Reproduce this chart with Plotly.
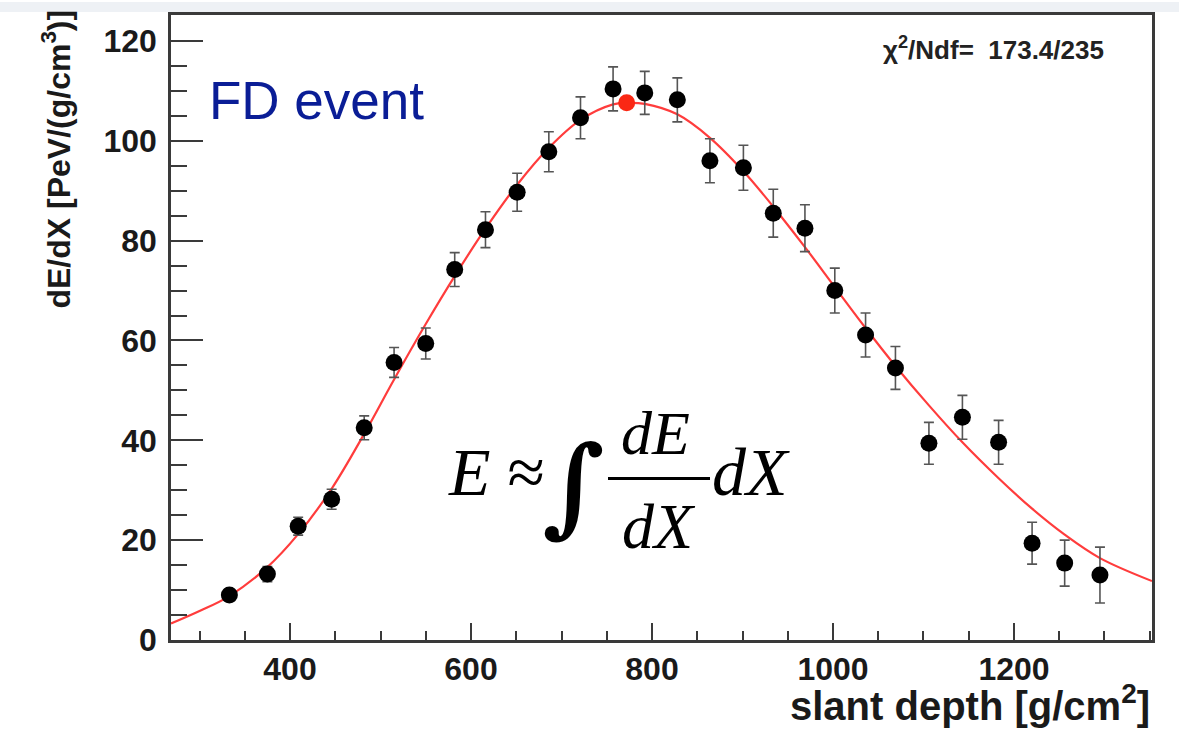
import plotly.graph_objects as go

# Measured longitudinal profile of the shower (slant depth in g/cm^2, dE/dX in PeV/(g/cm^2))
depth = [333, 375, 409, 446, 482, 515, 550, 582, 616, 651, 686, 721, 757, 792,
         828, 864, 901, 934, 969, 1002, 1036, 1069, 1106, 1143, 1183, 1220, 1256, 1295]
dedx = [9.0, 13.2, 22.8, 28.2, 42.5, 55.6, 59.4, 74.2, 82.2, 89.7, 97.8, 104.6, 110.4, 109.6,
        108.2, 96.0, 94.6, 85.5, 82.5, 70.0, 61.1, 54.5, 39.4, 44.6, 39.6, 19.4, 15.4, 13.0]
dedx_err = [1.2, 1.5, 1.8, 2.0, 2.4, 3.0, 3.1, 3.4, 3.6, 3.8, 4.0, 4.2, 4.4, 4.3,
            4.4, 4.4, 4.5, 4.8, 4.7, 4.5, 4.4, 4.3, 4.2, 4.4, 4.4, 4.2, 4.6, 5.6]

# Shower maximum from the fit
xmax_depth = [772]
xmax_dedx = [107.6]

# Fitted profile curve
fit_depth = [268.5, 300, 333, 375, 409, 446, 482, 515, 550, 582, 616, 651, 686, 721, 757, 772,
             792, 828, 864, 901, 934, 969, 1002, 1036, 1069, 1106, 1143, 1183, 1220, 1256, 1295, 1352.5]
fit_dedx = [3.3, 5.8, 8.8, 14.6, 21.2, 30.3, 41.3, 52.2, 63.3, 72.9, 82.4, 91.2, 98.6, 104.2, 107.3, 107.6,
            107.4, 105.3, 100.6, 93.9, 86.8, 78.7, 70.7, 62.5, 54.9, 47.0, 39.6, 32.4, 26.3, 21.1, 16.4, 11.8]

chi2_text = "χ<sup>2</sup>/Ndf=  173.4/235"

W, H = 1179, 744
L, R, T, B = 171, 27, 13, 104
PW, PH = W - L - R, H - T - B


def px(x):
    return (x - L) / PW


def py(y):
    return (H - B - y) / PH


SANS = "Liberation Sans, Arial, Helvetica, sans-serif"
SERIF = "Liberation Serif, Times New Roman, serif"
AXIS = "#3a3a3a"

fig = go.Figure()

fig.add_trace(go.Scatter(
    x=fit_depth, y=fit_dedx, mode="lines",
    line=dict(color="rgb(255,60,60)", width=2.2, shape="spline", smoothing=1.0),
    hoverinfo="skip", showlegend=False,
))

fig.add_trace(go.Scatter(
    x=depth, y=dedx, mode="markers",
    marker=dict(color="black", size=17),
    error_y=dict(type="data", array=dedx_err, visible=True,
                 color="#555555", thickness=1.6, width=5),
    showlegend=False,
))

fig.add_trace(go.Scatter(
    x=xmax_depth, y=xmax_dedx, mode="markers",
    marker=dict(color="rgb(250,40,20)", size=17),
    showlegend=False,
))

fig.update_xaxes(
    range=[268.5, 1352.5], tick0=0, dtick=200,
    ticks="inside", ticklen=17, tickwidth=2, tickcolor=AXIS,
    minor=dict(ticks="inside", dtick=50, ticklen=9, tickwidth=2, tickcolor=AXIS),
    showline=True, linecolor=AXIS, linewidth=2.5, mirror=True,
    showgrid=False, zeroline=False,
    tickfont=dict(family=SANS, size=32, color="#1a1a1a", weight="bold"),
    ticklabelstandoff=-1,
)
fig.update_yaxes(
    range=[0, 125.2], tick0=0, dtick=20,
    ticks="inside", ticklen=32, tickwidth=2, tickcolor=AXIS,
    minor=dict(ticks="inside", dtick=5, ticklen=16, tickwidth=2, tickcolor=AXIS),
    showline=True, linecolor=AXIS, linewidth=2.5, mirror=True,
    showgrid=False, zeroline=False,
    tickfont=dict(family=SANS, size=32, color="#1a1a1a", weight="bold"),
    ticklabelstandoff=5,
)

annotations = [
    # axis titles
    dict(text="slant depth [g/cm<sup>2</sup>]", x=px(1152), y=py(703),
         xanchor="right", yanchor="middle",
         font=dict(family=SANS, size=40, color="#1a1a1a", weight="bold")),
    dict(text="dE/dX [PeV/(g/cm<sup>3</sup>)]", x=px(56), y=py(6), textangle=-90,
         xanchor="center", yanchor="top",
         font=dict(family=SANS, size=32, color="#1a1a1a", weight="bold")),
    # fit quality
    dict(text=chi2_text, x=px(1106), y=py(47), xanchor="right", yanchor="middle",
         font=dict(family=SANS, size=26, color="#222222", weight="bold")),
    # event label
    dict(text="FD event", x=px(207), y=py(99), xanchor="left", yanchor="middle",
         font=dict(family=SANS, size=53, color="#0a1d96")),
    # energy integral
    dict(text="<i>E</i> ≈", x=px(446), y=py(471), xanchor="left", yanchor="middle",
         font=dict(family=SERIF, size=68, color="black")),
    dict(text="∫", x=px(573), y=py(485), xanchor="center", yanchor="middle",
         font=dict(family="DejaVu Serif, serif", size=108, color="black", weight="bold")),
    dict(text="<i>dE</i>", x=px(655), y=py(432), xanchor="center", yanchor="middle",
         font=dict(family=SERIF, size=62, color="black")),
    dict(text="<i>dX</i>", x=px(659), y=py(526), xanchor="center", yanchor="middle",
         font=dict(family=SERIF, size=64, color="black")),
    dict(text="<i>dX</i>", x=px(710), y=py(471), xanchor="left", yanchor="middle",
         font=dict(family=SERIF, size=68, color="black")),
]
for a in annotations:
    a.update(xref="paper", yref="paper", showarrow=False)

shapes = [
    # fraction bar
    dict(type="line", xref="paper", yref="paper",
         x0=px(608), x1=px(710), y0=py(478), y1=py(478),
         line=dict(color="black", width=3)),
    # light header band above the frame
    dict(type="rect", xref="paper", yref="paper",
         x0=px(0), x1=px(W), y0=py(0), y1=py(10),
         fillcolor="#eef1f5", line=dict(width=0), layer="below"),
]

fig.update_layout(
    width=W, height=H,
    margin=dict(l=L, r=R, t=T, b=B, pad=0),
    paper_bgcolor="white", plot_bgcolor="white",
    annotations=annotations, shapes=shapes,
    showlegend=False,
)

fig.write_html("out.html")
